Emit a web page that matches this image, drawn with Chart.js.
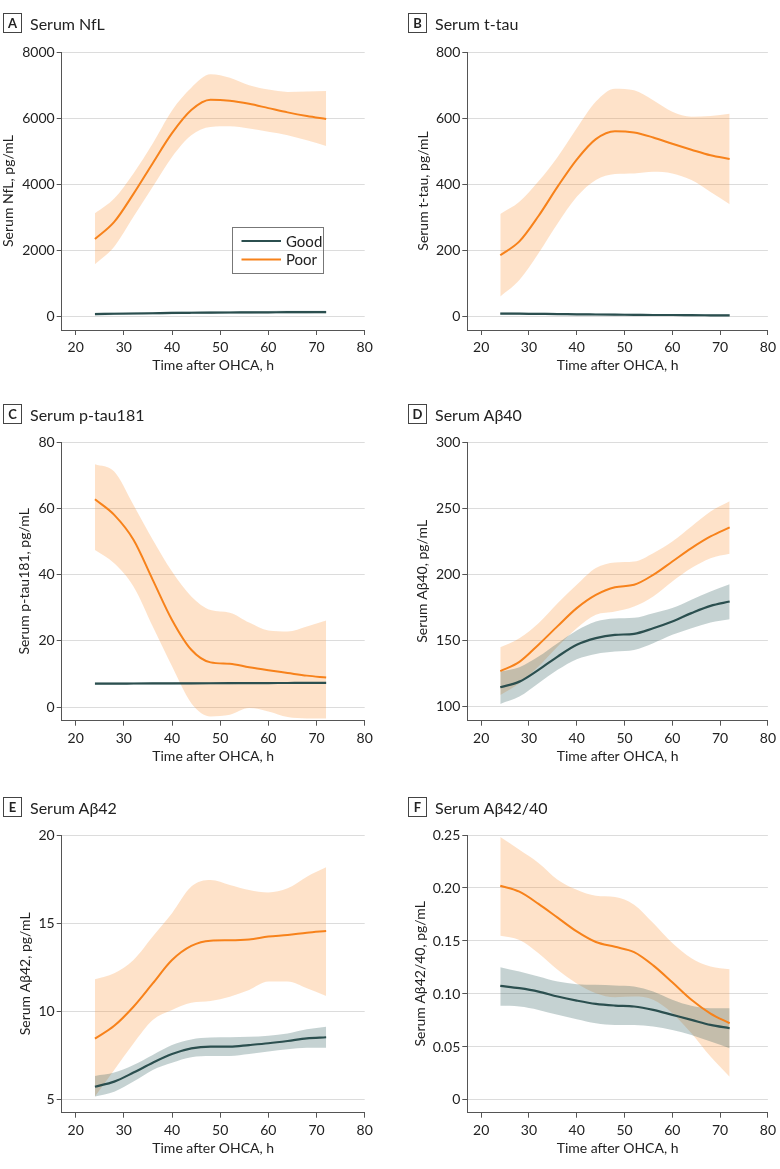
<!DOCTYPE html>
<html>
<head>
<meta charset="utf-8">
<script src="https://cdn.jsdelivr.net/npm/chart.js@4.4.1/dist/chart.umd.min.js"></script>
<style>
  body { margin: 0; background: #fff; font-family: Lato, sans-serif; }
  #page { position: relative; width: 780px; height: 1169px; overflow: hidden; }
  .cell { position: absolute; width: 390px; }
  .cell canvas { position: absolute; left: 0; top: 0; }
  .ptitle { position: absolute; height: 20px; display: flex; align-items: center; font-size: 16px; color: #222; white-space: nowrap; }
  .ptitle b { display: inline-block; box-sizing: border-box; width: 19px; height: 20px; border: 1px solid #444; text-align: center; line-height: 18px; font-size: 13px; margin-right: 8px; }
</style>
</head>
<body>
<div id="page"></div>
<script>
// time points (h after OHCA) where the curves are read
const hours = [24, 28, 32, 36, 40, 44, 48, 52, 56, 60, 64, 68, 72];
const groups = ['Good', 'Poor'];
const xTicks = [20, 30, 40, 50, 60, 70, 80];

// A - NfL
const nflTicks = [0, 2000, 4000, 6000, 8000];
const nflGood   = [60, 68, 76, 84, 92, 98, 103, 107, 110, 113, 116, 118, 120];
const nflGoodLo = [20, 28, 36, 44, 52, 58, 63, 67, 70, 73, 76, 78, 80];
const nflGoodHi = [100, 108, 116, 124, 132, 138, 143, 147, 150, 153, 156, 158, 160];
const nflPoor   = [2330, 2850, 3700, 4630, 5540, 6240, 6550, 6520, 6430, 6300, 6170, 6060, 5970];
const nflPoorLo = [1570, 2100, 3005, 3915, 4820, 5480, 5730, 5750, 5680, 5580, 5480, 5325, 5155];
const nflPoorHi = [3110, 3560, 4320, 5225, 6230, 6920, 7325, 7220, 6990, 6860, 6790, 6800, 6820];

// B - t-tau
const ttauTicks = [0, 200, 400, 600, 800];
const ttauGood   = [7.5, 7, 6.5, 6, 5, 4.5, 4, 3.5, 3, 3, 2.5, 2.2, 2];
const ttauGoodLo = [4.5, 4, 3.5, 3, 2, 1.5, 1, 0.5, 0, 0, -0.5, -0.8, -1];
const ttauGoodHi = [10.5, 10, 9.5, 9, 8, 7.5, 7, 6.5, 6, 6, 5.5, 5.2, 5];
const ttauPoor   = [184, 226, 303, 392, 474, 536, 560, 556, 541, 522, 504, 487, 476];
const ttauPoorLo = [59, 109, 190, 280, 361, 412, 430, 432, 437, 432, 412, 376, 339];
const ttauPoorHi = [309, 346, 408, 482, 569, 650, 689, 684, 654, 619, 604, 606, 613];

// C - p-tau181
const ptauTicks = [0, 20, 40, 60, 80];
const ptauGood   = [7.1, 7.1, 7.12, 7.14, 7.16, 7.18, 7.2, 7.22, 7.24, 7.26, 7.28, 7.3, 7.3];
const ptauGoodLo = [6.8, 6.8, 6.82, 6.84, 6.86, 6.88, 6.9, 6.92, 6.94, 6.96, 6.98, 7.0, 7.0];
const ptauGoodHi = [7.4, 7.4, 7.42, 7.44, 7.46, 7.48, 7.5, 7.52, 7.54, 7.56, 7.58, 7.6, 7.6];
const ptauPoor   = [62.7, 58.0, 50.5, 38.4, 26.3, 17.3, 13.5, 13.1, 12.0, 11.1, 10.3, 9.5, 8.9];
const ptauPoorLo = [47.4, 43.4, 36.4, 24.3, 12.3, 1.2, -2.8, -2.3, -0.3, -1.3, -3.0, -3.4, -3.4];
const ptauPoorHi = [73.3, 71.1, 61.0, 50.5, 40.9, 33.4, 29.3, 28.5, 25.5, 23.1, 22.8, 24.3, 26.1];

// D - Abeta40
const ab40Ticks = [100, 150, 200, 250, 300];
const ab40Good   = [114.9, 119.1, 128, 138, 146.9, 151.9, 154.4, 155.2, 159.4, 164.5, 170.8, 176.3, 179.6];
const ab40GoodLo = [102.3, 107.8, 117.9, 128, 136, 140, 141.8, 143, 148.1, 154.4, 159.4, 163.7, 166.2];
const ab40GoodHi = [126.7, 130, 138, 148.1, 157.7, 164.5, 166.8, 167.3, 170.8, 174.6, 180.9, 187.2, 192.7];
const ab40Poor   = [127, 134, 147, 161, 174.6, 184.6, 190.4, 192.2, 199.7, 209.8, 219.9, 228.7, 235.5];
const ab40PoorLo = [109, 117.9, 130.5, 145.6, 159.4, 169.5, 172, 175.8, 183.4, 194.7, 204.8, 212.3, 215.6];
const ab40PoorHi = [145, 151.9, 163.2, 178.3, 192.2, 204.8, 209.1, 209.8, 216.1, 224.9, 236.3, 247.6, 255.2];

// E - Abeta42
const ab42Ticks = [5, 10, 15, 20];
const ab42Good   = [5.75, 6.04, 6.55, 7.11, 7.6, 7.92, 8.02, 8.02, 8.11, 8.21, 8.34, 8.49, 8.55];
const ab42GoodLo = [5.19, 5.47, 6.04, 6.7, 7.11, 7.42, 7.49, 7.49, 7.6, 7.74, 7.87, 7.96, 7.96];
const ab42GoodHi = [6.36, 6.55, 6.98, 7.55, 8.11, 8.43, 8.53, 8.55, 8.58, 8.64, 8.77, 9.0, 9.15];
const ab42Poor   = [8.47, 9.2, 10.28, 11.6, 12.92, 13.72, 14.02, 14.04, 14.09, 14.25, 14.34, 14.47, 14.57];
const ab42PoorLo = [5.2, 6.7, 8.2, 9.53, 10.1, 10.5, 10.6, 10.85, 11.23, 11.7, 11.7, 11.32, 10.89];
const ab42PoorHi = [11.83, 12.17, 12.92, 14.25, 15.57, 17.08, 17.45, 17.17, 16.89, 16.75, 16.98, 17.64, 18.17];

// F - Abeta42/40
const ratioTicks = [0, 0.05, 0.10, 0.15, 0.20, 0.25];
const ratioGood   = [0.1077, 0.1055, 0.1023, 0.0976, 0.0938, 0.0907, 0.0891, 0.0882, 0.085, 0.0803, 0.0756, 0.0708, 0.0677];
const ratioGoodLo = [0.0888, 0.0882, 0.085, 0.0803, 0.0762, 0.0724, 0.0708, 0.0708, 0.0693, 0.0661, 0.0614, 0.0551, 0.0488];
const ratioGoodHi = [0.1253, 0.1212, 0.1165, 0.1118, 0.1093, 0.1086, 0.108, 0.107, 0.1023, 0.0945, 0.0888, 0.0866, 0.0866];
const ratioPoor   = [0.2021, 0.1965, 0.185, 0.172, 0.159, 0.149, 0.1445, 0.1395, 0.127, 0.111, 0.0945, 0.0815, 0.0724];
const ratioPoorLo = [0.155, 0.151, 0.1385, 0.1228, 0.110, 0.1008, 0.097, 0.0976, 0.0945, 0.0819, 0.063, 0.041, 0.022];
const ratioPoorHi = [0.248, 0.236, 0.2236, 0.2078, 0.1984, 0.1927, 0.1914, 0.1842, 0.1669, 0.148, 0.1338, 0.126, 0.1234];

const GOOD = '#2b4f4f', GOOD_BAND = 'rgba(45,95,95,0.28)';
const POOR = '#f7821b', POOR_BAND = 'rgba(250,150,60,0.28)';

const panels = [
  { tag: 'A', name: 'Serum NfL', yTitle: 'Serum NfL, pg/mL', ticks: nflTicks, min: -424, max: 8000,
    good: [nflGood, nflGoodLo, nflGoodHi], poor: [nflPoor, nflPoorLo, nflPoorHi], legend: true },
  { tag: 'B', name: 'Serum t-tau', yTitle: 'Serum t-tau, pg/mL', ticks: ttauTicks, min: -42.4, max: 800,
    good: [ttauGood, ttauGoodLo, ttauGoodHi], poor: [ttauPoor, ttauPoorLo, ttauPoorHi] },
  { tag: 'C', name: 'Serum p-tau181', yTitle: 'Serum p-tau181, pg/mL', ticks: ptauTicks, min: -4.1, max: 80,
    good: [ptauGood, ptauGoodLo, ptauGoodHi], poor: [ptauPoor, ptauPoorLo, ptauPoorHi] },
  { tag: 'D', name: 'Serum Aβ40', yTitle: 'Serum Aβ40, pg/mL', ticks: ab40Ticks, min: 89.6, max: 300,
    good: [ab40Good, ab40GoodLo, ab40GoodHi], poor: [ab40Poor, ab40PoorLo, ab40PoorHi] },
  { tag: 'E', name: 'Serum Aβ42', yTitle: 'Serum Aβ42, pg/mL', ticks: ab42Ticks, min: 4.28, max: 20,
    good: [ab42Good, ab42GoodLo, ab42GoodHi], poor: [ab42Poor, ab42PoorLo, ab42PoorHi] },
  { tag: 'F', name: 'Serum Aβ42/40', yTitle: 'Serum Aβ42/40, pg/mL', ticks: ratioTicks, min: -0.012, max: 0.25,
    good: [ratioGood, ratioGoodLo, ratioGoodHi], poor: [ratioPoor, ratioPoorLo, ratioPoorHi], fmt: true }
];

// layout of the 3x2 grid
const rows = [
  { top: 0,   h: 380, areaTop: 52, areaBottom: 330,   titleY: 13 },
  { top: 380, h: 400, areaTop: 62, areaBottom: 340.7, titleY: 24 },
  { top: 780, h: 389, areaTop: 55, areaBottom: 332.7, titleY: 17 }
];
const cols = [
  { left: 0,   axisX: 61.7, right: 364.7, boxX: 3 },
  { left: 390, axisX: 77.3, right: 380.3, boxX: 18 }
];
const padLefts = [0, 25, 16, 24.5, 17, 22];

const pts = arr => arr.map((v, i) => ({ x: hours[i], y: v }));

// legend box drawn inside panel A
const legendBox = {
  id: 'legendBox',
  afterDraw(chart) {
    const ctx = chart.ctx;
    const items = chart.data.datasets.filter(d => d.label);
    ctx.save();
    ctx.strokeStyle = '#777';
    ctx.lineWidth = 1;
    ctx.strokeRect(232.5, 227.5, 91, 46);
    ctx.font = '15px Lato';
    ctx.textBaseline = 'middle';
    items.forEach((d, i) => {
      const y = 241 + i * 18.5;
      ctx.strokeStyle = d.borderColor;
      ctx.lineWidth = 2.2;
      ctx.beginPath();
      ctx.moveTo(241.5, y);
      ctx.lineTo(281, y);
      ctx.stroke();
      ctx.fillStyle = '#222';
      ctx.fillText(d.label, 286, y + 1);
    });
    ctx.restore();
  }
};

const page = document.getElementById('page');

panels.forEach((p, k) => {
  const row = rows[Math.floor(k / 2)], col = cols[k % 2];
  const cell = document.createElement('div');
  cell.className = 'cell';
  cell.style.left = col.left + 'px';
  cell.style.top = row.top + 'px';
  cell.style.height = row.h + 'px';
  const canvas = document.createElement('canvas');
  canvas.width = 390;
  canvas.height = row.h;
  cell.appendChild(canvas);
  const title = document.createElement('div');
  title.className = 'ptitle';
  title.style.left = col.boxX + 'px';
  title.style.top = row.titleY + 'px';
  title.innerHTML = '<b>' + p.tag + '</b><span>' + p.name + '</span>';
  cell.appendChild(title);
  page.appendChild(cell);

  const padLeft = padLefts[k];
  const band = (lo, hi, color, order) => [
    { data: pts(hi), fill: '+1', backgroundColor: color, borderColor: 'rgba(0,0,0,0)', borderWidth: 0, pointRadius: 0, order },
    { data: pts(lo), fill: false, backgroundColor: color, borderColor: 'rgba(0,0,0,0)', borderWidth: 0, pointRadius: 0, order }
  ];

  const datasets = [
    ...band(p.poor[1], p.poor[2], POOR_BAND, 3),
    ...band(p.good[1], p.good[2], GOOD_BAND, 2),
    { label: groups[0], data: pts(p.good[0]), borderColor: GOOD, borderWidth: 2.2, pointRadius: 0, fill: false, order: 1 },
    { label: groups[1], data: pts(p.poor[0]), borderColor: POOR, borderWidth: 2, pointRadius: 0, fill: false, order: 0 }
  ];

  new Chart(canvas, {
    type: 'line',
    data: { datasets },
    options: {
      animation: false,
      responsive: false,
      devicePixelRatio: 1,
      elements: { line: { cubicInterpolationMode: 'monotone' } },
      layout: {
        padding: { top: row.areaTop, right: 390 - col.right, bottom: row.h - row.areaBottom - 44, left: padLeft }
      },
      plugins: { legend: { display: false }, tooltip: { enabled: false } },
      scales: {
        x: {
          type: 'linear',
          min: 17.1,
          max: 80,
          afterBuildTicks: s => { s.ticks = xTicks.map(v => ({ value: v })); },
          afterFit: s => { s.height = 44; },
          grid: { drawOnChartArea: false, tickColor: '#555', tickLength: 5 },
          border: { color: '#555', width: 1 },
          ticks: { color: '#222', font: { family: 'Lato', size: 14 }, padding: 4, maxRotation: 0 },
          title: { display: true, text: 'Time after OHCA, h', color: '#222', font: { family: 'Lato', size: 14 }, padding: 0 }
        },
        y: {
          type: 'linear',
          min: p.min,
          max: p.max,
          afterBuildTicks: s => { s.ticks = p.ticks.map(v => ({ value: v })); },
          afterFit: s => { s.width = col.axisX - padLeft; },
          grid: { color: '#dcdcdc', tickColor: '#555', tickLength: 5 },
          border: { color: '#555', width: 1 },
          ticks: {
            color: '#222', font: { family: 'Lato', size: 14 }, padding: 2,
            callback: v => p.fmt ? (v === 0 ? '0' : v.toFixed(2)) : String(v)
          },
          title: { display: true, text: p.yTitle, color: '#222', font: { family: 'Lato', size: 14 }, padding: 0 }
        }
      }
    },
    plugins: p.legend ? [legendBox] : []
  });
});
</script>
</body>
</html>
